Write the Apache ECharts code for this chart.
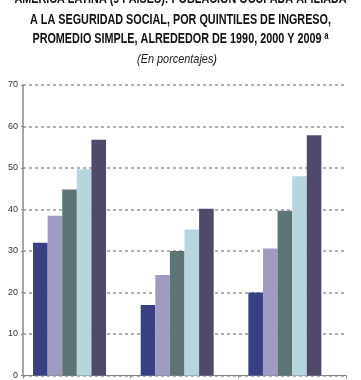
<!DOCTYPE html>
<html><head><meta charset="utf-8">
<script src="https://cdn.jsdelivr.net/npm/echarts@6/dist/echarts.min.js"></script>
<style>html,body{margin:0;padding:0;background:#fff}#c{width:361px;height:380px}</style>
</head><body><div id="c"></div>
<script>
const categories = ['1990', '2000', '2009'];
const seriesNames = ['Quintil I', 'Quintil II', 'Quintil III', 'Quintil IV', 'Quintil V'];
const q1 = [32, 17, 20];
const q2 = [38.5, 24.2, 30.6];
const q3 = [44.8, 30, 39.7];
const q4 = [49.7, 35.2, 48];
const q5 = [56.8, 40.2, 57.9];
const yTicks = [0, 10, 20, 30, 40, 50, 60, 70];
const titleLines = [
  'AMÉRICA LATINA (9 PAÍSES): POBLACIÓN OCUPADA AFILIADA',
  'A LA SEGURIDAD SOCIAL, POR QUINTILES DE INGRESO,',
  'PROMEDIO SIMPLE, ALREDEDOR DE 1990, 2000 Y 2009 ᵃ'
];
const subtitle = '(En porcentajes)';
const colors = ['#383f82', '#9f9bc2', '#5c7476', '#b6d5df', '#4f4a69'];
const values = [q1, q2, q3, q4, q5];

const ctx = document.createElement('canvas').getContext('2d');
function fitScale(text, font, target) {
  ctx.font = font;
  return target / ctx.measureText(text).width;
}
const tFont = 'bold 15.5px "Liberation Sans"';
const sFont = 'italic 13px "Liberation Sans"';
const sc = fitScale(titleLines[1], tFont, 301);
const graphics = [];
const ys = [-1, 19.5, 39.2];
titleLines.forEach((t, i) => {
  graphics.push({type: 'text', x: 180.5, y: ys[i], scaleX: sc, silent: true,
    style: {text: t, x: 0, y: 0, font: tFont, fill: '#111', align: 'center', verticalAlign: 'middle'}});
});
graphics.push({type: 'text', x: 177, y: 59.5, scaleX: fitScale(subtitle, sFont, 80), silent: true,
  style: {text: subtitle, x: 0, y: 0, font: sFont, fill: '#222', align: 'center', verticalAlign: 'middle'}});

const chart = echarts.init(document.getElementById('c'), null, {renderer: 'canvas'});
const series = values.map((v, i) => ({
  name: seriesNames[i], type: 'bar', data: v, barWidth: 14.6, barGap: '0%',
  itemStyle: {color: colors[i]}
}));
series.push({name: 'spacer', type: 'bar', data: [null, null, null], barWidth: 14.6, barGap: '0%'});
chart.setOption({
  animation: false,
  graphic: graphics,
  grid: {left: 23, right: 15, top: 85, bottom: 3, containLabel: false},
  xAxis: {
    type: 'category', data: categories,
    axisLine: {lineStyle: {color: '#888', width: 1}},
    axisTick: {show: true, length: 3, lineStyle: {color: '#888'}},
    axisLabel: {show: false}
  },
  yAxis: {
    type: 'value', min: 0, max: 70, interval: 10,
    axisLine: {show: true, lineStyle: {color: '#888', width: 1.5}},
    axisTick: {show: true, length: 2, lineStyle: {color: '#888'}},
    axisLabel: {fontFamily: 'Liberation Sans', fontSize: 9, color: '#333', margin: 5,
      formatter: v => yTicks.includes(v) ? String(v) : ''},
    splitLine: {show: true, lineStyle: {color: '#999', type: [3, 3], width: 1.5}}
  },
  series: series
});
</script></body></html>
